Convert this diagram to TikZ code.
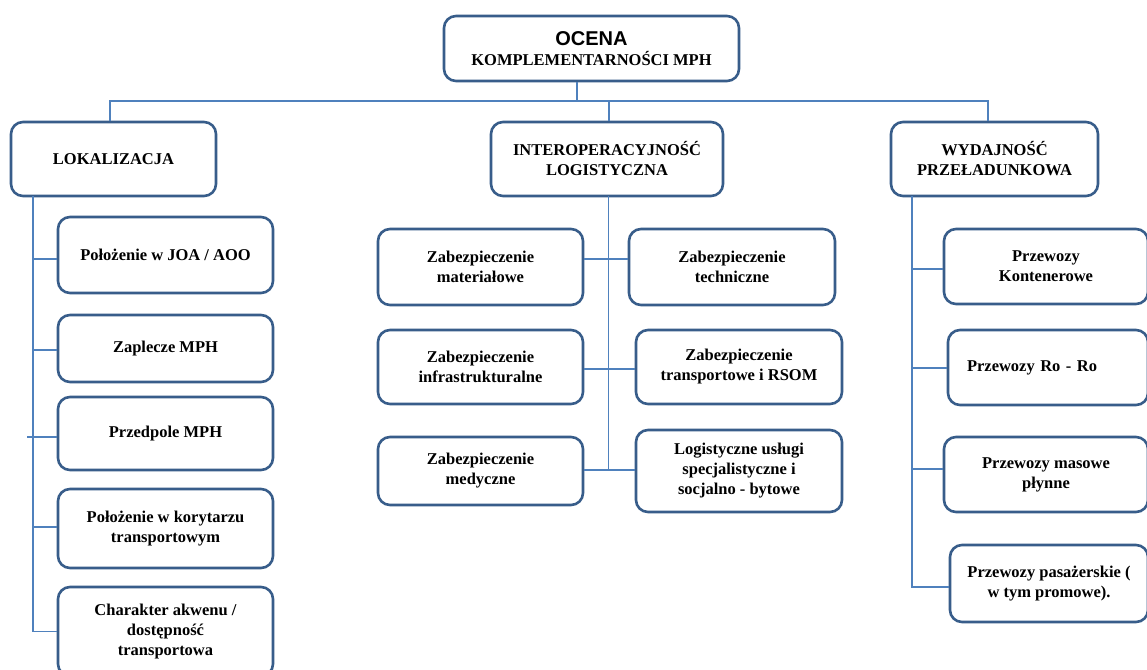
\documentclass[tikz,border=0pt]{standalone}
\usepackage{fontspec}
\setmainfont{Liberation Serif}
\newfontfamily\ocenafont{Liberation Sans}
\definecolor{boxblue}{RGB}{56,93,138}
\definecolor{connblue}{RGB}{79,129,189}
\begin{document}
\begin{tikzpicture}[x=1pt,y=-1pt,
  box/.style={draw=boxblue, line width=2.6pt, rounded corners=12pt, fill=white,
    inner sep=0pt, align=center, font=\fontsize{16.5}{20}\selectfont\bfseries},
  conn/.style={draw=connblue, line width=1.5pt}]
\clip (0,0) rectangle (1147,669);
\fill[white] (0,0) rectangle (1147,669);
% nodes
\node[box, minimum width=295, minimum height=65] (top) at (591.5,48.5)
  {{\ocenafont\fontsize{20}{22}\selectfont\bfseries OCENA}\\[0pt]KOMPLEMENTARNOŚCI MPH};
\node[box, minimum width=205, minimum height=74] (lok) at (113.5,159) {LOKALIZACJA};
\node[box, minimum width=232, minimum height=74] (inter) at (607,159) {INTEROPERACYJNOŚĆ\\LOGISTYCZNA};
\node[box, minimum width=207, minimum height=74] (wyd) at (994.5,159) {WYDAJNOŚĆ\\PRZEŁADUNKOWA};
% left column
\node[box, minimum width=215, minimum height=76] (L1) at (165.5,255) {Położenie w JOA / AOO};
\node[box, minimum width=215, minimum height=67] (L2) at (165.5,348.5) {Zaplecze MPH};
\node[box, minimum width=215, minimum height=73] (L3) at (165.5,433.5) {Przedpole MPH};
\node[box, minimum width=215, minimum height=79] (L4) at (165.5,528.5) {Położenie w korytarzu\\transportowym};
\node[box, minimum width=215, minimum height=89] (L5) at (165.5,631.5) {Charakter akwenu /\\dostępność\\transportowa};
% middle
\node[box, minimum width=205, minimum height=76] (M1) at (480.5,267) {Zabezpieczenie\\materiałowe};
\node[box, minimum width=206, minimum height=76] (M2) at (732,267) {Zabezpieczenie\\techniczne};
\node[box, minimum width=205, minimum height=74] (M3) at (480.5,367) {Zabezpieczenie\\infrastrukturalne};
\node[box, minimum width=206, minimum height=74] (M4) at (739,367) {Zabezpieczenie\\transportowe i RSOM};
\node[box, minimum width=205, minimum height=68] (M5) at (480.5,471) {Zabezpieczenie\\medyczne};
\node[box, minimum width=206, minimum height=82] (M6) at (739,471) {Logistyczne usługi\\specjalistyczne i\\socjalno - bytowe};
% right
\node[box, minimum width=204, minimum height=75] (R1) at (1046,266.5) {Przewozy\\Kontenerowe};
\node[box, minimum width=200, minimum height=75, text width=162, align=left] (R2) at (1048,367.5) {Przewozy Ro - Ro};
\node[box, minimum width=204, minimum height=75] (R3) at (1046,474.5) {Przewozy masowe\\płynne};
\node[box, minimum width=198, minimum height=77] (R4) at (1049,583.5) {Przewozy pasażerskie (\\w tym promowe).};
% connectors
\coordinate (bus) at (577,101);
\draw[conn] (bus |- top.south) -- (bus);
\draw[conn] ([xshift=-3.5]lok.north) -- ([xshift=-3.5]lok.north |- bus) -- ([xshift=-6.5]wyd.north |- bus) -- ([xshift=-6.5]wyd.north);
\draw[conn] ([xshift=2]inter.north |- bus) -- ([xshift=2]inter.north);
% left trunk
\coordinate (tL) at (33,196);
\draw[conn] (tL) -- (tL |- L5.west) -- (L5.west);
\draw[conn] ([yshift=-4]tL |- L1.west) -- ([yshift=-4]L1.west);
\draw[conn] ([yshift=-1.5]tL |- L2.west) -- ([yshift=-1.5]L2.west);
\draw[conn] ([xshift=-6,yshift=-3.5]tL |- L3.west) -- ([yshift=-3.5]L3.west);
\draw[conn] ([yshift=1.5]tL |- L4.west) -- ([yshift=1.5]L4.west);
% middle trunk
\coordinate (tM) at (608.5,196);
\draw[conn] (tM) -- (tM |- M5.east);
\draw[conn] ([yshift=8]M1.east) -- ([yshift=8]M2.west);
\draw[conn] ([yshift=-2]M3.east) -- ([yshift=-2]M4.west);
\draw[conn] ([yshift=1]M5.east) -- ([yshift=1]M6.west);
% right trunk
\coordinate (tR) at (912,196);
\draw[conn] (tR) -- ([yshift=-3.5]tR |- R4.west) -- ([yshift=-3.5]R4.west);
\draw[conn] ([yshift=-2.5]tR |- R1.west) -- ([yshift=-2.5]R1.west);
\draw[conn] ([yshift=-0.5]tR |- R2.west) -- ([yshift=-0.5]R2.west);
\draw[conn] ([yshift=5.5]tR |- R3.west) -- ([yshift=5.5]R3.west);
\end{tikzpicture}
\end{document}
